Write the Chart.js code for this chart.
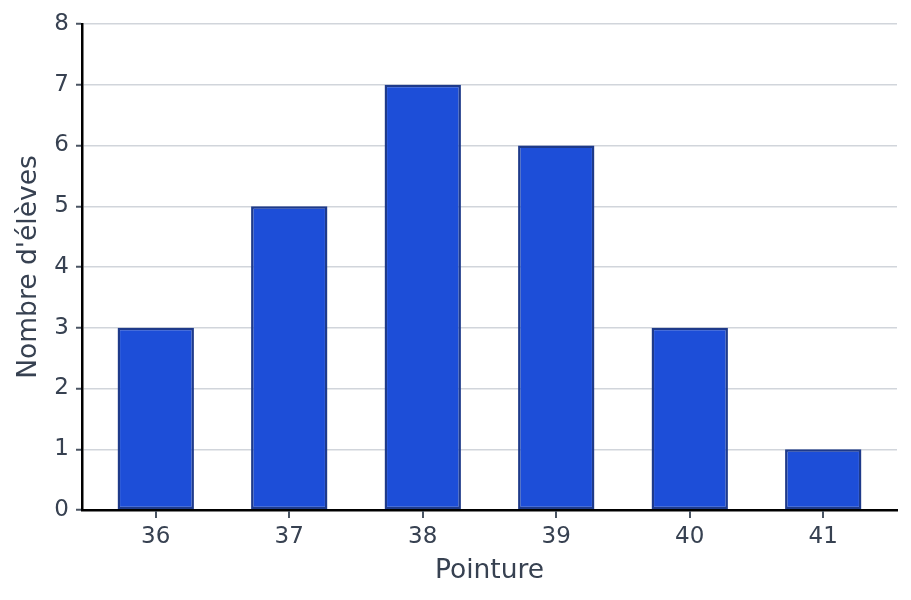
<!DOCTYPE html>
<html>
<head>
<meta charset="utf-8">
<script src="https://cdn.jsdelivr.net/npm/chart.js@4/dist/chart.umd.min.js"></script>
<style>
  html, body { margin: 0; padding: 0; background: #fff; }
  #wrap { width: 911px; height: 600px; }
</style>
</head>
<body>
<div id="wrap"><canvas id="shoeChart" width="911" height="600"></canvas></div>
<script>
const pointures = [36, 37, 38, 39, 40, 41];
const eleves = [3, 5, 7, 6, 3, 1];
const yTicks = [0, 1, 2, 3, 4, 5, 6, 7, 8];

const textColor = '#374151';
const font = 'DejaVu Sans';

// small tick marks under the x axis, placed by the x scale
const xTickMarks = {
  id: 'xTickMarks',
  afterDraw(chart) {
    const c = chart.ctx;
    const x = chart.scales.x;
    const yBase = chart.chartArea.bottom;
    c.save();
    c.strokeStyle = '#4b5563';
    c.lineWidth = 2;
    for (const v of pointures) {
      const px = Math.round(x.getPixelForValue(v));
      c.beginPath();
      c.moveTo(px, yBase + 1);
      c.lineTo(px, yBase + 8);
      c.stroke();
    }
    c.restore();
  }
};

const chart = new Chart(document.getElementById('shoeChart'), {
  type: 'bar',
  data: {
    datasets: [{
      data: pointures.map((p, i) => ({ x: p, y: eleves[i] })),
      backgroundColor: '#1d4ed8',
      borderColor: '#1e3a8a',
      borderWidth: 2.5,
      borderSkipped: false,
      barPercentage: 0.572,
      categoryPercentage: 1
    }]
  },
  options: {
    responsive: false,
    animation: false,
    devicePixelRatio: 1,
    layout: { padding: { left: 0, right: 14, top: 24, bottom: 0 } },
    plugins: { legend: { display: false }, tooltip: { enabled: false } },
    scales: {
      x: {
        type: 'linear',
        min: 35.4475,
        max: 41.5525,
        offset: false,
        afterBuildTicks: s => { s.ticks = pointures.map(v => ({ value: v })); },
        afterFit: s => { s.height = 90; },
        grid: { display: false, drawTicks: true, tickLength: 7 },
        border: { display: true, color: '#000', width: 2.5, z: 1 },
        ticks: { color: textColor, font: { family: font, size: 23 }, padding: 6 },
        title: { display: true, text: 'Pointure', color: textColor, font: { family: font, size: 26.5 }, padding: { top: 0, bottom: 13 } }
      },
      y: {
        min: 0,
        max: 8,
        afterBuildTicks: s => { s.ticks = yTicks.map(v => ({ value: v })); },
        afterFit: s => { s.width = 82; },
        grid: { color: '#d1d5db', lineWidth: 1.5, drawTicks: true, tickLength: 6, tickWidth: 2, tickColor: '#4b5563' },
        border: { display: true, color: '#000', width: 2.5, z: 1 },
        ticks: { color: textColor, font: { family: font, size: 23 }, padding: 7 },
        title: { display: true, text: "Nombre d'élèves", color: textColor, font: { family: font, size: 26.5 }, padding: { top: 13, bottom: 0 } }
      }
    }
  },
  plugins: [xTickMarks]
});
</script>
</body>
</html>
